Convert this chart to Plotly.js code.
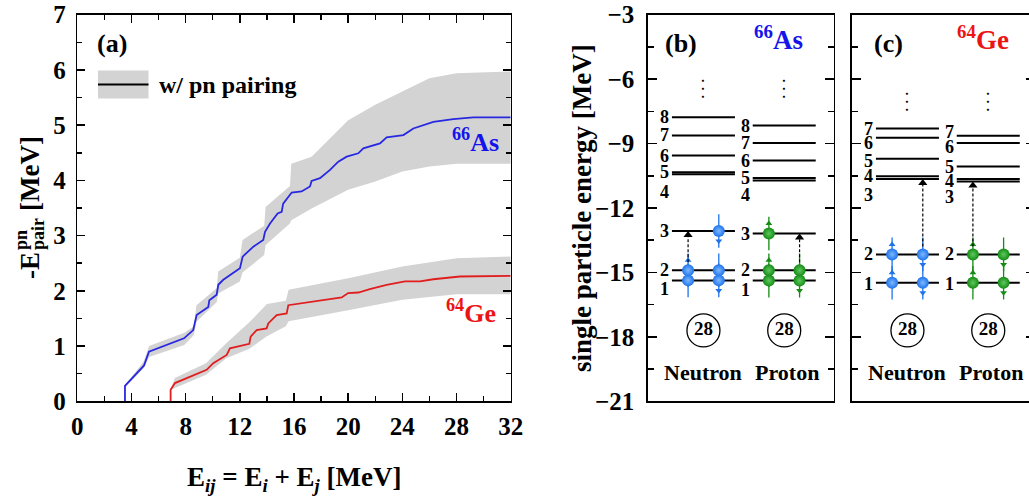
<!DOCTYPE html>
<html><head><meta charset="utf-8">
<script src="https://cdn.plot.ly/plotly-3.0.1.min.js"></script>
<style>html,body{margin:0;padding:0;overflow:hidden;background:#fff;width:1029px;height:502px}#chart{width:1040px;height:502px}</style>
</head><body><div id="chart"></div>
<script>
// ---------------- DATA ----------------
// panel (a): -E_pair^pn vs E_ij
const asX = [3.52, 3.52, 4.93, 5.29, 7.88, 8.56, 8.81, 9.67, 9.75, 10.29, 10.41, 10.78, 12.01, 12.21, 13.0, 13.73, 13.86, 14.23, 14.79, 15.09, 15.2, 15.83, 16.56, 17.18, 17.30, 17.92, 18.66, 19.27, 19.89, 20.75, 21.12, 22.35, 22.84, 24.08, 24.81, 26.29, 27.76, 29.24, 32];
const asY = [0, 0.28, 0.65, 0.90, 1.14, 1.29, 1.56, 1.71, 1.83, 1.93, 2.11, 2.20, 2.41, 2.62, 2.80, 2.92, 3.07, 3.22, 3.40, 3.43, 3.58, 3.78, 3.80, 3.89, 3.99, 4.04, 4.19, 4.34, 4.43, 4.49, 4.58, 4.67, 4.78, 4.82, 4.94, 5.06, 5.11, 5.14, 5.14];
const geX = [6.89, 6.89, 7.21, 9.55, 10.04, 11.03, 11.27, 12.70, 12.80, 13.24, 13.98, 14.1, 14.72, 15.46, 15.58, 16.44, 17.92, 19.52, 20.0, 20.75, 21.6, 22.84, 24.19, 25.3, 26.29, 28.25, 32];
const geY = [0, 0.21, 0.33, 0.57, 0.69, 0.84, 0.96, 1.04, 1.17, 1.29, 1.32, 1.41, 1.56, 1.59, 1.74, 1.77, 1.83, 1.88, 1.96, 1.97, 2.03, 2.11, 2.17, 2.17, 2.21, 2.26, 2.27];
const asBandX  = [3.55, 4.9, 5.3, 7.9, 8.6, 8.8, 10.3, 10.4, 12.0, 12.2, 13.8, 13.9, 15.7, 15.8, 17.3, 20, 22, 24, 26, 28, 32];
const asBandLo = [0.26, 0.60, 0.80, 1.02, 1.20, 1.44, 1.80, 1.95, 2.17, 2.33, 2.65, 2.83, 3.22, 3.28, 3.49, 3.83, 3.98, 4.16, 4.25, 4.30, 4.30];
const asBandHi = [0.30, 0.72, 1.00, 1.24, 1.36, 1.74, 2.05, 2.35, 2.60, 2.92, 3.18, 3.52, 3.90, 4.30, 4.43, 5.09, 5.37, 5.61, 5.85, 5.94, 5.97];
const geBandX  = [6.9, 7.2, 9.5, 11.0, 12.7, 14.0, 15.4, 15.6, 20, 24, 28, 32];
const geBandLo = [0.20, 0.24, 0.48, 0.78, 0.95, 1.18, 1.36, 1.45, 1.65, 1.84, 1.94, 1.94];
const geBandHi = [0.22, 0.42, 0.69, 1.05, 1.43, 1.76, 1.82, 2.02, 2.23, 2.44, 2.59, 2.62];

// panels (b),(c): single particle levels [MeV], level 1 first
const asNeutronLevels = [-15.37, -14.90, -13.07, -10.43, -10.33, -9.56, -8.62, -7.77];
const asProtonLevels  = [-15.38, -14.90, -13.19, -10.72, -10.60, -9.79, -8.97, -8.16];
const geNeutronLevels = [-15.48, -14.16, -10.65, -10.52, -9.71, -8.73, -8.30];
const geProtonLevels  = [-15.48, -14.16, -10.77, -10.65, -10.07, -8.97, -8.64];
// occupied levels and spins (+1 up, -1 down)
const asNeutronOccLevel = [1, 1, 2, 2, 3];
const asNeutronOccSpin  = [1, -1, 1, -1, -1];
const asProtonOccLevel  = [1, 1, 2, 2, 3];
const asProtonOccSpin   = [1, -1, 1, -1, 1];
const geNeutronOccLevel = [1, 1, 2, 2];
const geNeutronOccSpin  = [1, -1, 1, -1];
const geProtonOccLevel  = [1, 1, 2, 2];
const geProtonOccSpin   = [1, -1, 1, -1];
// excitations: [from level, to level, spin]
const asNeutronExc = [2, 3, 1];
const asProtonExc  = [2, 3, -1];
const geNeutronExc = [2, 3, -1];
const geProtonExc  = [2, 3, 1];
const magicNumber = '28';
const xTicksA = [0, 4, 8, 12, 16, 20, 24, 28, 32];

// ---------------- LAYOUT HELPERS ----------------
const FONT = 'Liberation Serif, Times New Roman, serif';
const W = 1040, H = 502;
const PX = v => v / W, PY = v => 1 - v / H;
const BLUE_BALL = 'rgb(30,115,235)', GREEN_BALL = 'rgb(20,140,20)';
const BLUE_HI = 'rgb(125,185,255)', GREEN_HI = 'rgb(95,200,95)';
const HALF = 0.39, COL = 0.19;
const pxPerMeV = (401.3 - 14.7) / 18;
const mev = p => p / pxPerMeV;
// label pixel shifts (down positive) per level
const asNShift = [9, 0, 0, 18, 0, 0, 0, 0];
const asPShift = [9, 0, 0, 14, 0, 0, 0, 0];
const geNShift = [1, 0, 16, 0, 2, 5, 0];
const gePShift = [1, 0, 15, 2, 0, 4, -4];

const traces = [];
const annotations = [];
const shapes = [];

// panel (a)
function band(x, lo, hi) {
  traces.push({x: x, y: lo, xaxis: 'x', yaxis: 'y', mode: 'lines', line: {width: 0, color: 'rgba(0,0,0,0)'}, hoverinfo: 'skip', showlegend: false});
  traces.push({x: x, y: hi, xaxis: 'x', yaxis: 'y', mode: 'lines', line: {width: 0, color: 'rgba(0,0,0,0)'}, fill: 'tonexty', fillcolor: '#d3d3d3', hoverinfo: 'skip', showlegend: false});
}
band(asBandX, asBandLo, asBandHi);
band(geBandX, geBandLo, geBandHi);
traces.push({x: asX, y: asY, xaxis: 'x', yaxis: 'y', mode: 'lines', line: {color: 'rgb(40,40,225)', width: 1.8}, name: '66As', showlegend: false});
traces.push({x: geX, y: geY, xaxis: 'x', yaxis: 'y', mode: 'lines', line: {color: 'rgb(225,30,30)', width: 1.8}, name: '64Ge', showlegend: false});

// panels (b),(c)
function levelPanel(ax, center, levels, occLv, occSpin, exc, shifts, ballColor, hiColor) {
  const xa = 'x' + ax, ya = 'y' + ax;
  const lx = [], ly = [];
  levels.forEach(e => { lx.push(center - HALF, center + HALF, null); ly.push(e, e, null); });
  traces.push({x: lx, y: ly, xaxis: xa, yaxis: ya, mode: 'lines', line: {color: 'black', width: 2}, hoverinfo: 'skip', showlegend: false});
  levels.forEach((e, i) => {
    annotations.push({xref: xa, yref: ya, x: center - 0.48, y: e, yshift: -shifts[i], text: String(i + 1), showarrow: false, borderpad: 0,
      font: {family: FONT, size: 18, color: 'black', weight: 'bold'}, xanchor: 'center', yanchor: 'middle'});
  });
  // particles
  const bx = occLv.map((l, i) => center + (occSpin[i] > 0 ? -COL : COL));
  const by = occLv.map(l => levels[l - 1]);
  traces.push({x: bx, y: by, xaxis: xa, yaxis: ya, mode: 'markers', marker: {symbol: 'line-ns-open', size: 24, color: ballColor, line: {color: ballColor, width: 1.3}}, hoverinfo: 'skip', showlegend: false});
  traces.push({x: bx, y: by.map((e, i) => e + occSpin[i] * mev(10)), xaxis: xa, yaxis: ya, mode: 'markers',
    marker: {symbol: occSpin.map(s => s > 0 ? 'triangle-up' : 'triangle-down'), size: 6, color: ballColor, line: {width: 0}}, hoverinfo: 'skip', showlegend: false});
  traces.push({x: bx, y: by, xaxis: xa, yaxis: ya, mode: 'markers',
    marker: {symbol: 'circle', size: 12, color: ballColor, gradient: {type: 'radial', color: hiColor}, line: {width: 0}}, hoverinfo: 'skip', showlegend: false});
  // excitation (dashed arrow)
  const ex = center + (exc[2] > 0 ? -COL : COL);
  const y0 = levels[exc[0] - 1] + mev(8), y1 = levels[exc[1] - 1];
  traces.push({x: [ex, ex], y: [y0, y1 - mev(4)], xaxis: xa, yaxis: ya, mode: 'lines', line: {color: 'black', width: 1.2, dash: '3px,2px'}, hoverinfo: 'skip', showlegend: false});
  traces.push({x: [ex], y: [y1 - mev(4)], xaxis: xa, yaxis: ya, mode: 'markers', marker: {symbol: 'triangle-up', size: 8, color: 'black', line: {width: 0}}, hoverinfo: 'skip', showlegend: false});
}
levelPanel(2, 1, asNeutronLevels, asNeutronOccLevel, asNeutronOccSpin, asNeutronExc, asNShift, BLUE_BALL, BLUE_HI);
levelPanel(2, 2, asProtonLevels, asProtonOccLevel, asProtonOccSpin, asProtonExc, asPShift, GREEN_BALL, GREEN_HI);
levelPanel(3, 1, geNeutronLevels, geNeutronOccLevel, geNeutronOccSpin, geNeutronExc, geNShift, BLUE_BALL, BLUE_HI);
levelPanel(3, 2, geProtonLevels, geProtonOccLevel, geProtonOccSpin, geProtonExc, gePShift, GREEN_BALL, GREEN_HI);

// magic number circles, labels, dots
const CORE_E = -17.70, NAME_E = -19.68, DOTS_E = -6.45;
[2, 3].forEach(ax => {
  traces.push({x: [1, 2], y: [CORE_E, CORE_E], xaxis: 'x' + ax, yaxis: 'y' + ax, mode: 'markers+text', text: [magicNumber, magicNumber],
    textposition: 'middle center', textfont: {family: FONT, size: 19, color: 'black', weight: 'bold'},
    marker: {symbol: 'circle-open', size: 33, color: 'black', line: {width: 1.3, color: 'black'}}, hoverinfo: 'skip', showlegend: false});
  [['Neutron', 1], ['Proton', 2.04]].forEach(([t, x]) => annotations.push({xref: 'x' + ax, yref: 'y' + ax, x: x, y: NAME_E, text: t, showarrow: false,
    font: {family: FONT, size: 22, color: 'black', weight: 'bold'}}));
  [0.99, 2.0].forEach(x => annotations.push({xref: 'x' + ax, yref: 'y' + ax, x: x, y: DOTS_E + (ax === 3 ? -0.6 : 0), text: '•<br>•<br>•', showarrow: false,
    font: {family: 'DejaVu Sans', size: 6, color: 'black'}}));
});

// panel titles & labels
const bold = (s, size, color, x, y, extra) => Object.assign({xref: 'paper', yref: 'paper', x: PX(x), y: PY(y), text: s, showarrow: false,
  font: {family: FONT, size: size, color: color || 'black', weight: 'bold'}, xanchor: 'center', yanchor: 'middle'}, extra || {});
annotations.push(bold('(a)', 26, 'black', 112, 43));
annotations.push(bold('(b)', 26, 'black', 681, 43));
annotations.push(bold('(c)', 26, 'black', 888, 43));
annotations.push(bold('<sup>66</sup>As', 27, 'rgb(20,20,235)', 778, 38));
annotations.push(bold('<sup>64</sup>Ge', 27, 'rgb(235,20,20)', 983, 38));
annotations.push(bold('<sup>66</sup>As', 26, 'rgb(20,20,235)', 475, 140));
annotations.push(bold('<sup>64</sup>Ge', 26, 'rgb(235,20,20)', 471, 311));
annotations.push(bold('w/ pn pairing', 24, 'black', 157, 85, {xanchor: 'left'}));
// axis titles
annotations.push(bold('E<sub><i>ij</i></sub> = E<sub><i>i</i></sub> + E<sub><i>j</i></sub> [MeV]', 27, 'black', 294, 479));
annotations.push(bold('single particle energy [MeV]', 27, 'black', 582, 208, {textangle: -90}));
annotations.push(bold('-E', 27, 'black', 30, 266, {textangle: -90}));
annotations.push(bold('pn', 18, 'black', 21, 240, {textangle: -90}));
annotations.push(bold('pair', 18, 'black', 38, 234, {textangle: -90}));
annotations.push(bold('[MeV]', 27, 'black', 30, 174, {textangle: -90}));

// legend key
shapes.push({type: 'rect', xref: 'paper', yref: 'paper', x0: PX(98), x1: PX(148.5), y0: PY(98.5), y1: PY(70.5), fillcolor: '#d3d3d3', line: {width: 0}});
shapes.push({type: 'line', xref: 'paper', yref: 'paper', x0: PX(98), x1: PX(148.5), y0: PY(84.5), y1: PY(84.5), line: {color: 'black', width: 2}});

const tickFont = {family: FONT, size: 25, color: 'black', weight: 'bold'};
const axBase = {showgrid: false, zeroline: false, showline: true, linecolor: 'black', linewidth: 1.5, mirror: 'ticks',
  ticks: 'inside', tickcolor: 'black', tickwidth: 1.5, ticklen: 8, tickfont: tickFont};
const yDom = [PY(401.3), PY(14.7)];
const cRight = 1035;
const layout = {
  width: W, height: H, margin: {l: 0, r: 0, t: 0, b: 0}, paper_bgcolor: 'white', plot_bgcolor: 'white', showlegend: false,
  font: {family: FONT, weight: 'bold'},
  xaxis: Object.assign({}, axBase, {domain: [PX(77.3), PX(510.7)], range: [0, 32], tickmode: 'array', tickvals: xTicksA, ticktext: xTicksA.map(String),
    minor: {dtick: 2, tick0: 0, ticks: 'inside', ticklen: 5, tickwidth: 1.5, tickcolor: 'black'}, anchor: 'y', ticklabelstandoff: 2}),
  yaxis: Object.assign({}, axBase, {domain: yDom, range: [0, 7], dtick: 1, tick0: 0,
    minor: {dtick: 0.5, tick0: 0, ticks: 'inside', ticklen: 5, tickwidth: 1.5, tickcolor: 'black'}, anchor: 'x', ticklabelstandoff: 5}),
  xaxis2: Object.assign({}, axBase, {domain: [PX(647.7), PX(833.5)], range: [0.31, 2.61], ticks: '', showticklabels: false, anchor: 'y2', mirror: true}),
  yaxis2: Object.assign({}, axBase, {domain: yDom, range: [-21, -3], dtick: 3, tick0: -3, ticklen: 9,
    minor: {dtick: 1.5, ticks: 'inside', ticklen: 6, tickwidth: 1.5, tickcolor: 'black'}, anchor: 'x2', ticklabelstandoff: 7}),
  xaxis3: Object.assign({}, axBase, {domain: [PX(851.7), PX(cRight)], range: [0.31, 0.31 + (cRight - 851.7) / 80.8], ticks: '', showticklabels: false, anchor: 'y3', mirror: true}),
  yaxis3: Object.assign({}, axBase, {domain: yDom, range: [-21, -3], dtick: 3, tick0: -3, ticklen: 9, showticklabels: false,
    minor: {dtick: 1.5, ticks: 'inside', ticklen: 6, tickwidth: 1.5, tickcolor: 'black'}, anchor: 'x3'}),
  annotations: annotations, shapes: shapes
};
Plotly.newPlot('chart', traces, layout, {displayModeBar: false, staticPlot: true});
</script></body></html>
